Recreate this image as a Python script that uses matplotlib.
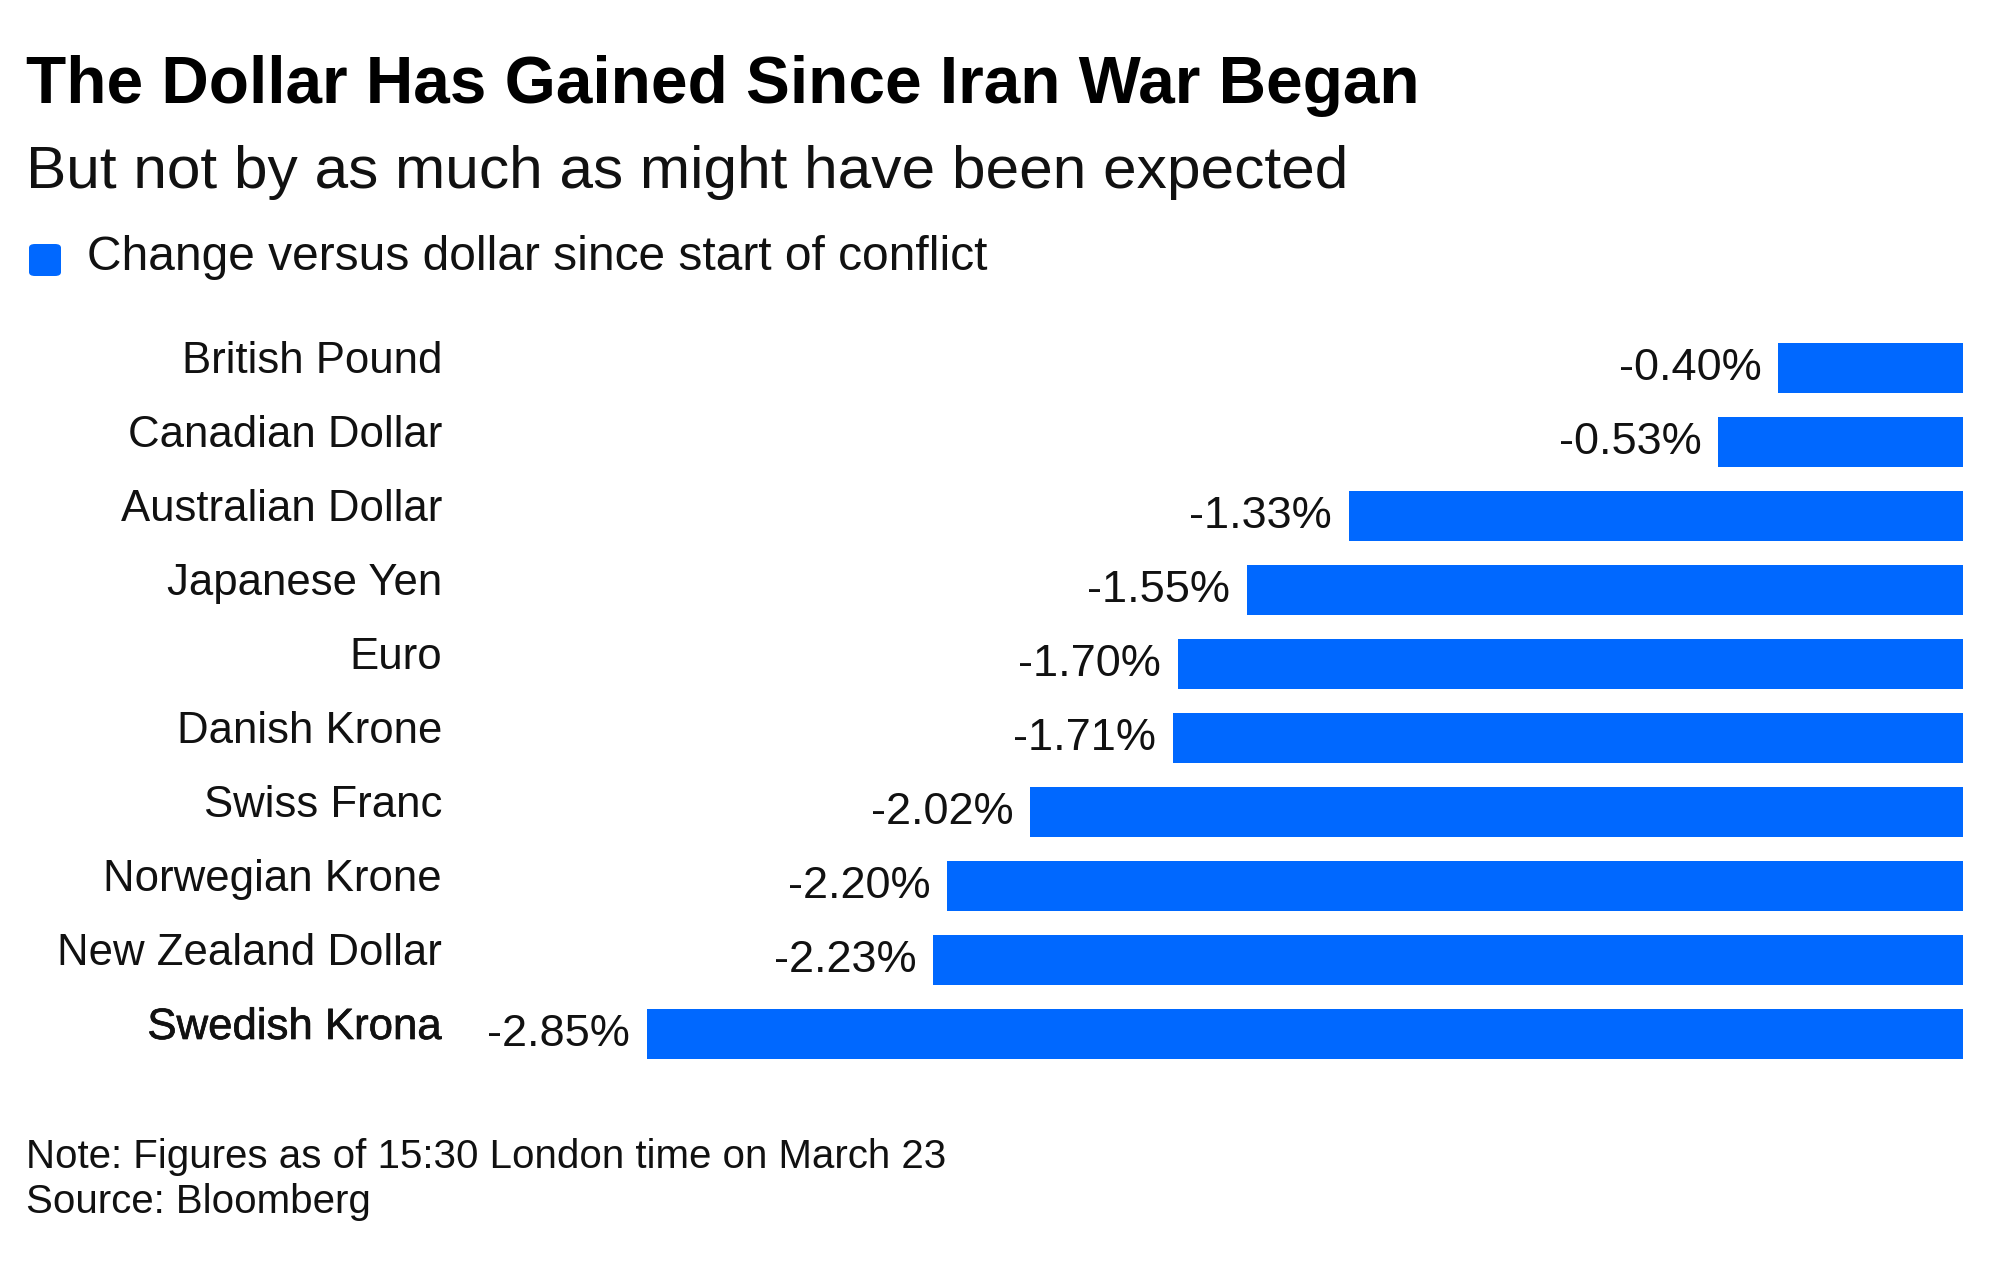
import matplotlib
matplotlib.use("Agg")
import matplotlib.pyplot as plt
import matplotlib.transforms as mtransforms
from matplotlib.patches import FancyBboxPatch
import matplotlib.patheffects as pe

plt.rcParams['font.family'] = ['Liberation Sans', 'DejaVu Sans']

categories = ["British Pound", "Canadian Dollar", "Australian Dollar", "Japanese Yen",
              "Euro", "Danish Krone", "Swiss Franc", "Norwegian Krone",
              "New Zealand Dollar", "Swedish Krona"]
values = [-0.40, -0.53, -1.33, -1.55, -1.70, -1.71, -2.02, -2.20, -2.23, -2.85]
value_labels = ["-0.40%", "-0.53%", "-1.33%", "-1.55%", "-1.70%", "-1.71%",
                "-2.02%", "-2.20%", "-2.23%", "-2.85%"]
title = "The Dollar Has Gained Since Iran War Began"
subtitle = "But not by as much as might have been expected"
legend_label = "Change versus dollar since start of conflict"
note = "Note: Figures as of 15:30 London time on March 23"
source = "Source: Bloomberg"

BLUE = "#0068ff"
W, H = 2000, 1265
fig = plt.figure(figsize=(W / 100, H / 100), dpi=100)
fig.patch.set_facecolor("white")

ax_left, ax_right = 468, 1963
ax_top, ax_bot = 331, 1071
ax = fig.add_axes([ax_left / W, 1 - ax_bot / H, (ax_right - ax_left) / W, (ax_bot - ax_top) / H])
ax.set_xlim(-3.238, 0)
ax.set_ylim(len(categories) - 0.5, -0.5)
ax.axis("off")

ypos = list(range(len(categories)))
ax.barh(ypos, values, height=0.68, color=BLUE, edgecolor="none")

px = 1 / 100.0
for i, (v, lab) in enumerate(zip(values, value_labels)):
    tr = ax.transData + mtransforms.ScaledTranslation(-17 * px, -12 * px, fig.dpi_scale_trans)
    ax.text(v, i, lab, ha="right", va="baseline", fontsize=32.5, color="#111111", transform=tr)

blend = mtransforms.blended_transform_factory(fig.transFigure, ax.transData)
for i, cat in enumerate(categories):
    tr = blend + mtransforms.ScaledTranslation(0, -5 * px, fig.dpi_scale_trans)
    kw = {}
    if i == len(categories) - 1:
        kw["path_effects"] = [pe.withStroke(linewidth=0.5, foreground="#111111")]
    ax.text(442 / W, i, cat, ha="right", va="baseline", fontsize=31.5, color="#111111",
            transform=tr, **kw)

fig.text(26 / W, 1 - 103 / H, title, fontsize=47.3, fontweight="bold", color="black",
         ha="left", va="baseline")
fig.text(26 / W, 1 - 188 / H, subtitle, fontsize=43.5, color="#111111", ha="left", va="baseline")

sq = FancyBboxPatch((29 / W, 1 - 276 / H), 32 / W, 32 / H,
                    boxstyle="round,pad=0,rounding_size=0.003", transform=fig.transFigure,
                    facecolor=BLUE, edgecolor="none")
fig.patches.append(sq)
fig.text(87 / W, 1 - 270 / H, legend_label, fontsize=34.5, color="#111111", ha="left", va="baseline")

fig.text(26 / W, 1 - 1168 / H, note, fontsize=29, color="#111111", ha="left", va="baseline")
fig.text(26 / W, 1 - 1213 / H, source, fontsize=29, color="#111111", ha="left", va="baseline")

fig.savefig("out.png", dpi=100, facecolor="white")
